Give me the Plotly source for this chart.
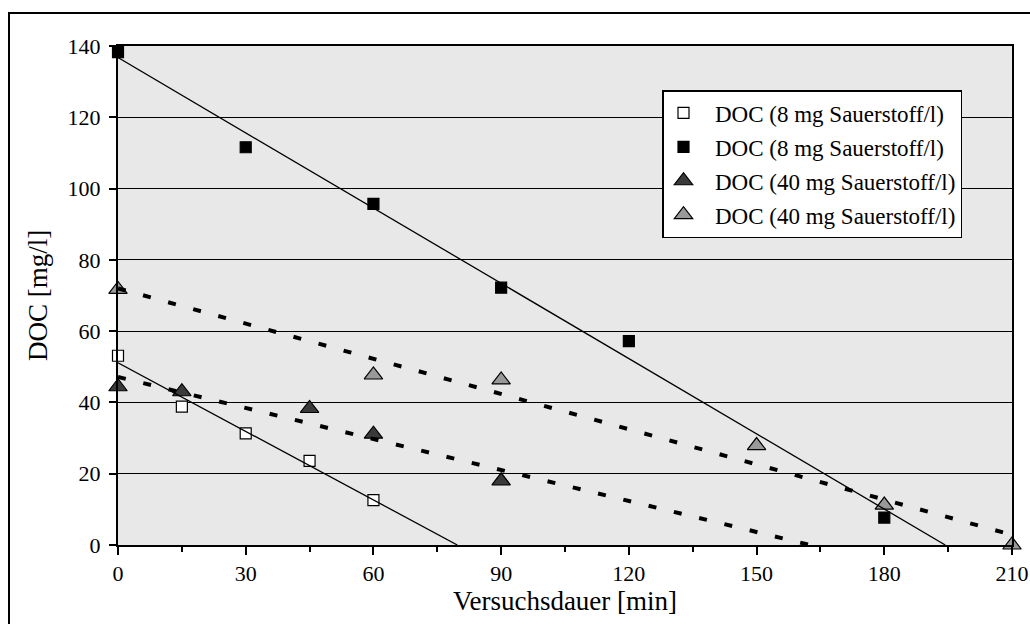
import numpy as np
import plotly.graph_objects as go

# Versuchsdauer [min] und DOC [mg/l] je Messreihe
x_8_a = [0, 15, 30, 45, 60]
doc_8_a = [53.1, 38.8, 31.3, 23.6, 12.6]

x_8_b = [0, 30, 60, 90, 120, 180]
doc_8_b = [138.3, 111.6, 95.7, 72.2, 57.2, 7.7]

x_40_a = [0, 15, 45, 60, 90]
doc_40_a = [44.4, 43.0, 38.3, 31.1, 18.0]

x_40_b = [0, 60, 90, 150, 180, 210]
doc_40_b = [71.7, 47.7, 46.3, 27.9, 11.2, 0.0]

x_ticks = [0, 30, 60, 90, 120, 150, 180, 210]
y_ticks = [0, 20, 40, 60, 80, 100, 120, 140]

X_MAX = 210
FONT = "Times New Roman, Liberation Serif, Times, serif"
PAD = "\u00a0\u00a0"

series = [
    dict(x=x_8_a, y=doc_8_a, name="DOC (8 mg Sauerstoff/l)", symbol="square",
         size=11, fill="white", dash="solid", lw=1.3),
    dict(x=x_8_b, y=doc_8_b, name="DOC (8 mg Sauerstoff/l)", symbol="square",
         size=11, fill="black", dash="solid", lw=1.3),
    dict(x=x_40_a, y=doc_40_a, name="DOC (40 mg Sauerstoff/l)", symbol="triangle-up",
         size=16, fill="#3a3a3a", dash="8px,18px", lw=4),
    dict(x=x_40_b, y=doc_40_b, name="DOC (40 mg Sauerstoff/l)", symbol="triangle-up",
         size=16, fill="#999999", dash="8px,18px", lw=4),
]

fig = go.Figure()

# Messpunkte
for i, s in enumerate(series):
    fig.add_trace(go.Scatter(
        x=s["x"], y=s["y"], mode="markers", name=PAD + s["name"],
        legendgroup=f"g{i}",
        marker=dict(symbol=s["symbol"], size=s["size"], color=s["fill"],
                    line=dict(color="black", width=1.2)),
        cliponaxis=False,
    ))

# Lineare Trendlinien, bis zur Nulllinie bzw. zum Achsenende verlängert
for s in series:
    m, b = np.polyfit(s["x"], s["y"], 1)
    x_end = min(X_MAX, -b / m) if m < 0 else X_MAX
    fig.add_trace(go.Scatter(
        x=[0, x_end], y=[b, m * x_end + b], mode="lines", showlegend=False,
        hoverinfo="skip",
        line=dict(color="black", width=s["lw"], dash=s["dash"]),
    ))

W, H = 1030, 624
ml, mr, mt, mb = 118, 18, 46, 79
pw, ph = W - ml - mr, H - mt - mb

def px_to_paper_x(px):
    return (px - ml) / pw

def px_to_paper_y(py):
    return 1 - (py - mt) / ph

# Rahmen um das gesamte Diagramm
fig.add_shape(type="rect", xref="paper", yref="paper",
              x0=px_to_paper_x(9), y0=px_to_paper_y(640),
              x1=px_to_paper_x(1045), y1=px_to_paper_y(13),
              line=dict(color="black", width=2), fillcolor="rgba(0,0,0,0)",
              layer="below")

fig.update_layout(
    width=W, height=H,
    margin=dict(l=ml, r=mr, t=mt, b=mb, autoexpand=False),
    paper_bgcolor="white",
    plot_bgcolor="#e8e8e8",
    font=dict(family=FONT, size=22, color="black"),
    showlegend=True,
    legend=dict(
        x=px_to_paper_x(662), y=px_to_paper_y(90), xanchor="left", yanchor="top",
        bgcolor="white", bordercolor="black", borderwidth=1.5,
        font=dict(family=FONT, size=23, color="black"),
        tracegroupgap=1, itemsizing="trace",
    ),
    xaxis=dict(
        range=[0, X_MAX], tickvals=x_ticks, ticktext=[str(v) for v in x_ticks],
        showgrid=False, zeroline=False, automargin=False,
        showline=True, linecolor="black", linewidth=2, mirror=True,
        ticks="outside", ticklen=8, tickwidth=1.5, tickcolor="black",
        minor=dict(ticks="outside", dtick=15, tick0=0, ticklen=5, tickwidth=1.5,
                   tickcolor="black", showgrid=False),
        tickfont=dict(family=FONT, size=22),
        title=dict(text="Versuchsdauer [min]", font=dict(family=FONT, size=27),
                   standoff=2),
    ),
    yaxis=dict(
        range=[0, 140], tickvals=y_ticks, ticktext=[str(v) for v in y_ticks],
        showgrid=True, gridcolor="black", gridwidth=1, zeroline=False,
        automargin=False,
        showline=True, linecolor="black", linewidth=2, mirror=True,
        ticks="outside", ticklen=7, tickwidth=1.5, tickcolor="black",
        tickfont=dict(family=FONT, size=22),
        ticklabelstandoff=4,
        title=dict(text="DOC [mg/l]", font=dict(family=FONT, size=27), standoff=12),
    ),
)

fig.write_html("out.html")
